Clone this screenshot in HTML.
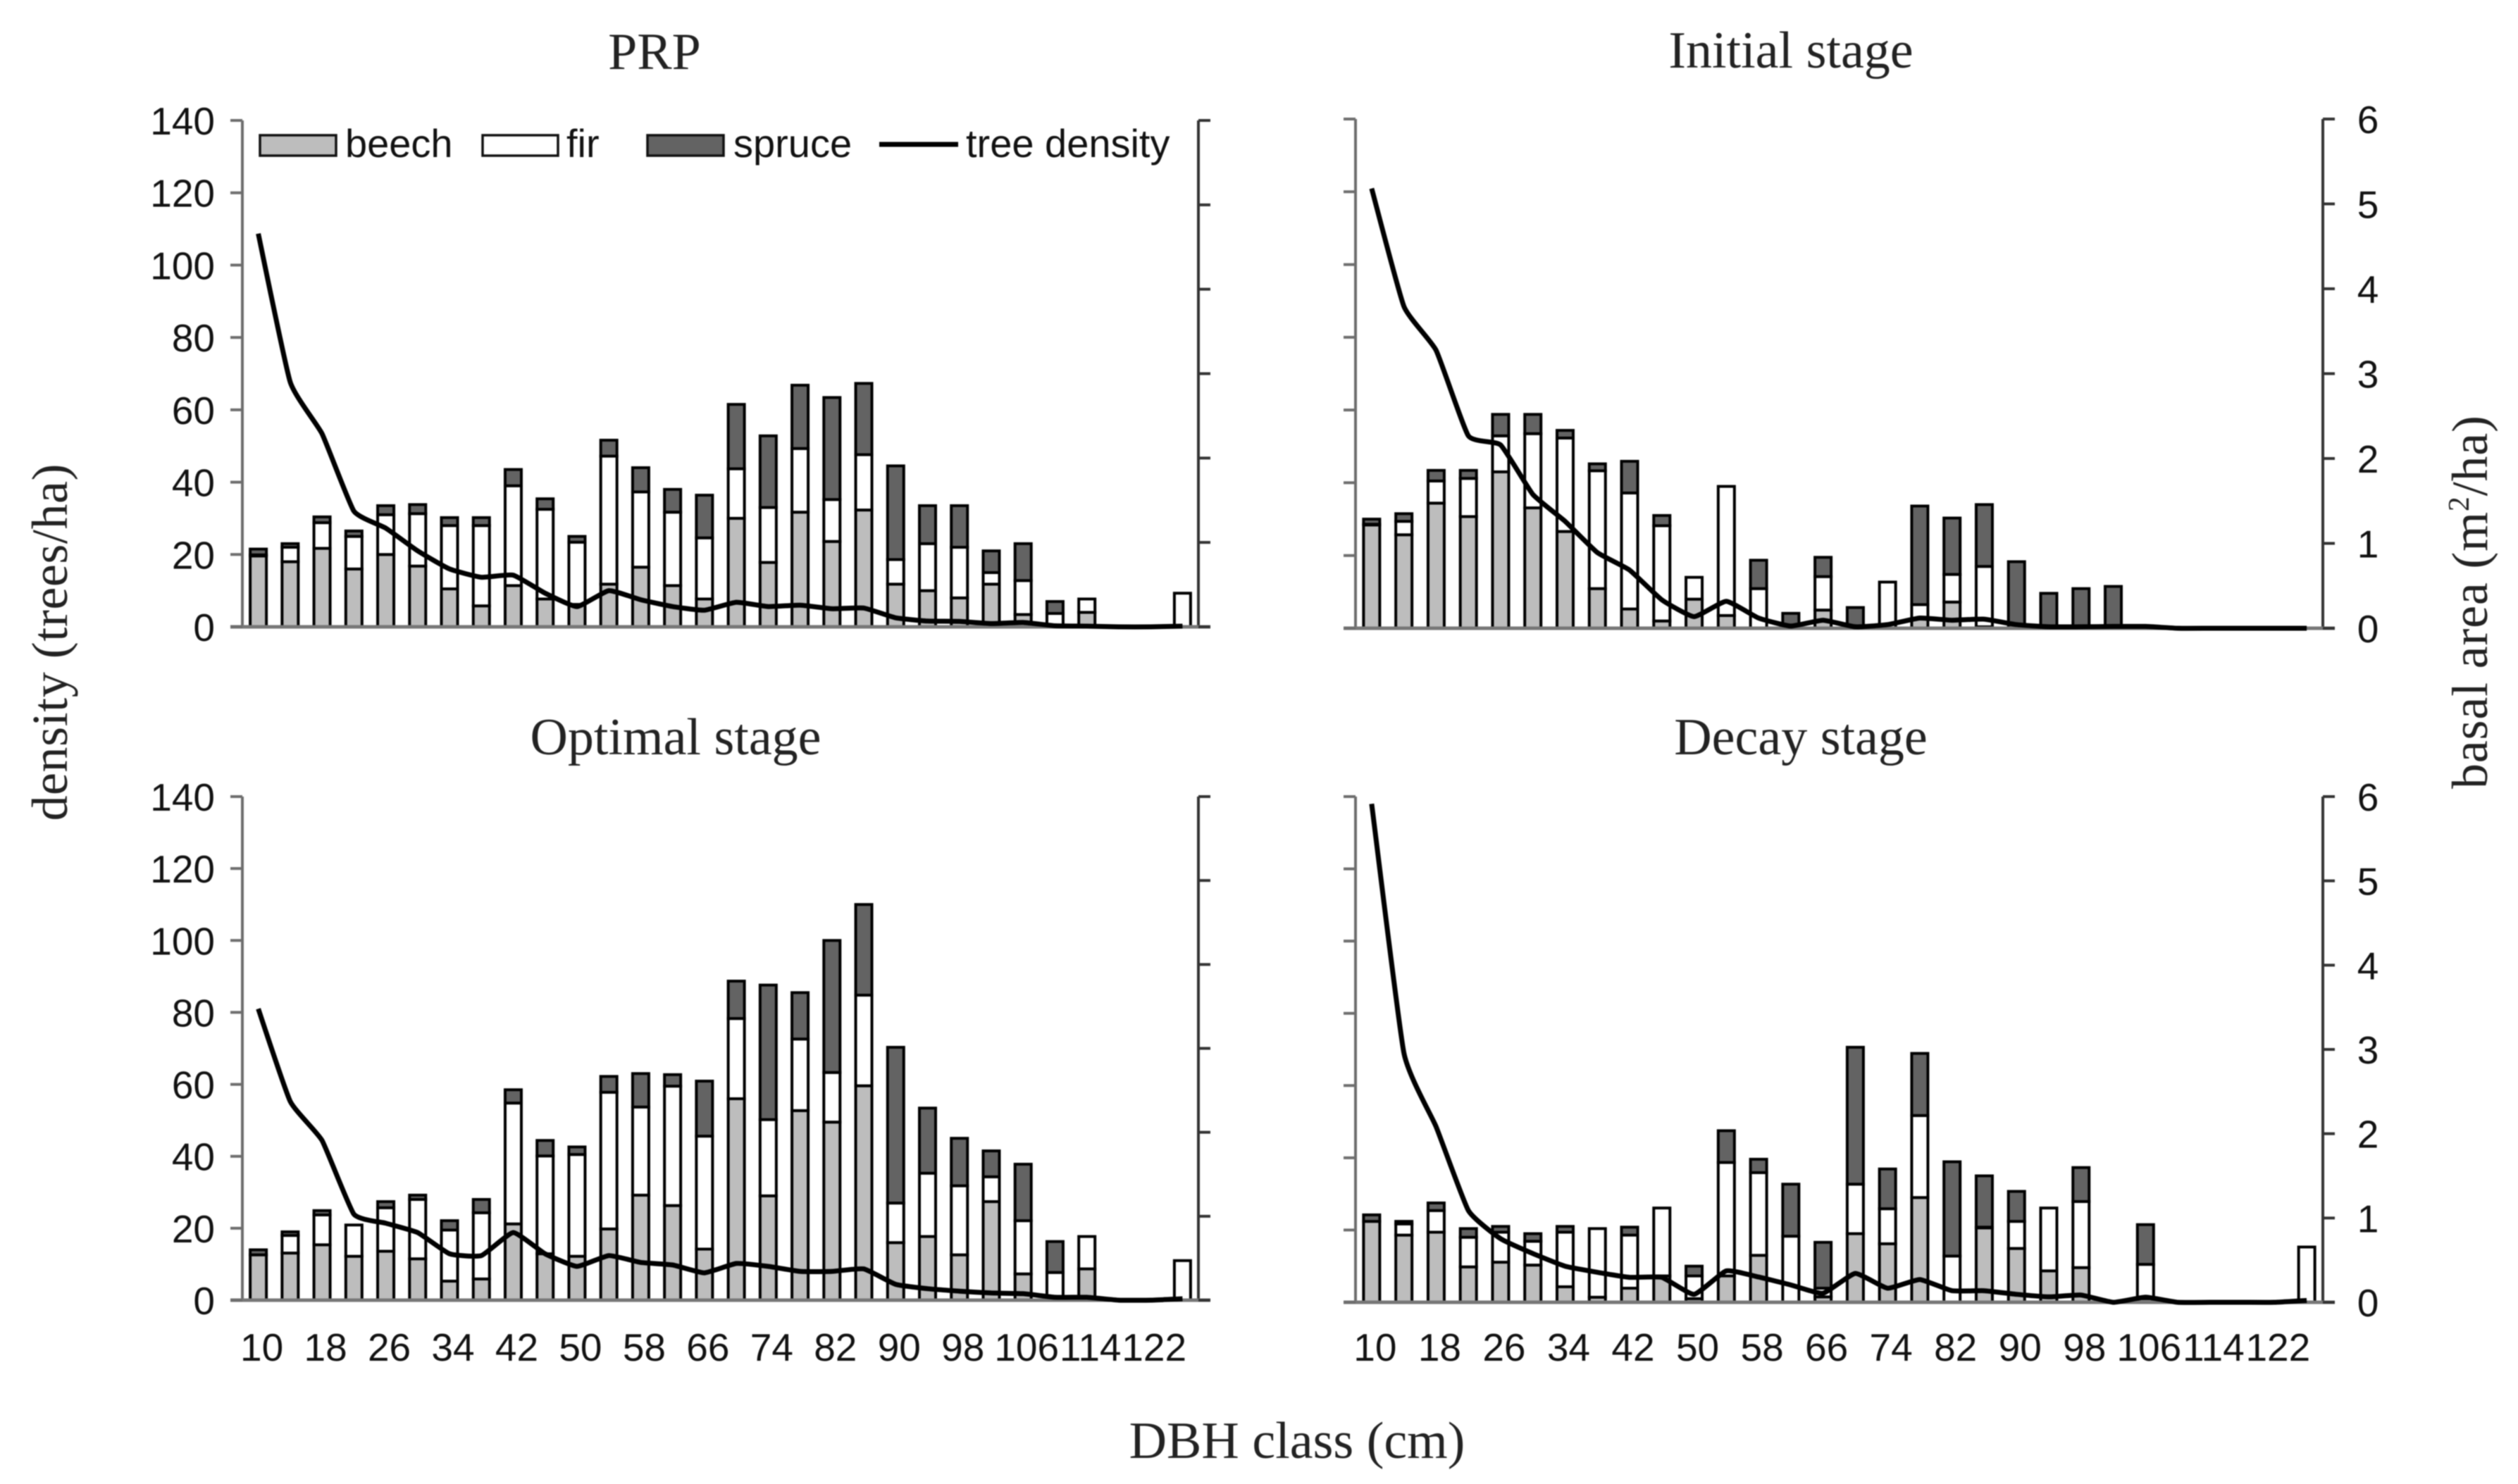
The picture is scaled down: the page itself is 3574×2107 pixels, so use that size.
<!DOCTYPE html>
<html lang="en">
<head>
<meta charset="utf-8">
<title>DBH class distributions by stage</title>
<style>
html,body{margin:0;padding:0;background:#fff;width:3574px;height:2107px;overflow:hidden}
svg{display:block;filter:blur(0.8px)}
.serif{font-family:"Liberation Serif",serif;fill:#222}
.sans{font-family:"Liberation Sans",sans-serif;fill:#111}
</style>
</head>
<body>
<svg id="chart" xmlns="http://www.w3.org/2000/svg" width="3574" height="2107" viewBox="0 0 3574 2107">
  <rect x="0" y="0" width="3574" height="2107" fill="#fff"/>
  <g id="panel-prp"></g>
  <g id="panel-initial"></g>
  <g id="panel-optimal"></g>
  <g id="panel-decay"></g>

  <text class="serif" x="929" y="98" font-size="74" text-anchor="middle">PRP</text>
  <text class="serif" x="2542" y="96" font-size="74" text-anchor="middle">Initial stage</text>
  <text class="serif" x="959" y="1071" font-size="74" text-anchor="middle">Optimal stage</text>
  <text class="serif" x="2556" y="1071" font-size="74" text-anchor="middle">Decay stage</text>

  <text class="serif" x="1841" y="2070" font-size="74" text-anchor="middle">DBH class (cm)</text>
  <text class="serif" transform="translate(95,912) rotate(-90)" font-size="72" text-anchor="middle" textLength="507" lengthAdjust="spacing">density (trees/ha)</text>
  <text class="serif" transform="translate(3530,855) rotate(-90)" font-size="72" text-anchor="middle" textLength="530" lengthAdjust="spacing">basal area (m<tspan font-size="42" dy="-26">2</tspan><tspan dy="26">/ha)</tspan></text>

  <g>
    <g>
      <rect x="369" y="192" width="108" height="29" fill="#bdbdbd" stroke="#111" stroke-width="3.5"/>
      <text class="sans" x="490" y="223" font-size="56">beech</text>
    </g>
    <g>
      <rect x="685" y="192" width="107" height="29" fill="#fff" stroke="#111" stroke-width="3.5"/>
      <text class="sans" x="804" y="223" font-size="56">fir</text>
    </g>
    <g>
      <rect x="919" y="192" width="108" height="29" fill="#636363" stroke="#111" stroke-width="3.5"/>
      <text class="sans" x="1041" y="223" font-size="56">spruce</text>
    </g>
    <g>
      <line x1="1248" y1="205" x2="1360" y2="205" stroke="#000" stroke-width="7"/>
      <text class="sans" x="1371" y="223" font-size="56">tree density</text>
    </g>
  </g>
</svg>
<script>
// DBH class midpoints (cm); only every second class carries a tick label.
const categories = [10,14,18,22,26,30,34,38,42,46,50,54,58,62,66,70,74,78,82,86,90,94,98,102,106,110,114,118,122,126];
const leftTicks = [0,20,40,60,80,100,120,140];
const rightTicks = [0,1,2,3,4,5,6];
const xTickLabels = ['10','18','26','34','42','50','58','66','74','82','90','98','106','114','122'];

// Values read against the left-hand 0-140 scale of each panel.
const prpBeech  = [19.6,18,21.7,16,20,16.8,10.5,5.8,11.4,7.7,6.2,11.8,16.5,11.4,7.7,30,17.8,31.7,23.6,32.3,11.8,10,8,11.8,3.4,0,4,0,0,0];
const prpFir    = [0.3,4,7.1,9,11,14.5,17.5,22.2,27.6,24.8,17.2,35.4,20.8,20.3,16.9,13.7,15.2,17.6,11.6,15.3,6.8,13,14,3.2,9.4,3.7,3.7,0,0,9.3];
const prpSpruce = [1.6,1,1.6,1.5,2.5,2.5,2.2,2.2,4.5,2.9,1.6,4.4,6.7,6.3,11.8,17.8,19.8,17.5,28.2,19.7,25.9,10.5,11.5,6,10.2,3.3,0,0,0,0];
const prpDensity = [108.7,67.7,53.4,32,27.3,21,16,13.7,14.3,9.3,5.6,10,7.5,5.6,4.6,6.8,5.6,6,5,5.2,2.5,1.6,1.5,0.9,1.2,0.3,0.2,0,0,0.2];

const initialBeech  = [28.4,25.7,34.4,30.7,43,33.1,26.6,10.9,5.3,2,8,3.5,0,0,5,0,0,2.8,7.2,0.4,0,0,0,0,0,0,0,0,0,0];
const initialFir    = [0.2,3.7,6.1,10.5,9.9,20.4,25.7,32.4,31.9,26.2,6,35.5,10.9,0,9.2,0,12.7,3.7,7.6,16.6,0,0,0,0,0,0,0,0,0,0];
const initialSpruce = [1.4,2.1,2.9,2.2,5.9,5.3,2.1,1.9,8.7,2.8,0,0,7.8,4.1,5.3,5.7,0,27.1,15.5,17,18.3,9.6,10.9,11.5,0,0,0,0,0,0];
const initialDensity = [120.9,88.5,76.4,52.9,50.4,36.8,29.4,20.8,16,7.8,3.2,7.4,2.8,0.6,2.2,0.4,1,2.8,2.2,2.5,1,0.4,0.4,0.5,0.5,0,0,0,0,0];

const optimalBeech  = [12.6,13.1,15.4,12.2,13.6,11.5,5.3,5.9,21.2,12.9,12.2,19.8,29.2,26.3,14.2,56,29,52.7,49.5,59.6,16,17.7,12.6,27.4,7.3,0,8.7,0,0,0];
const optimalFir    = [0,4.9,8.3,8.7,12.1,16.5,14.2,18.4,33.6,27.2,28.3,38,24.5,33.2,31.4,22.3,21.2,19.9,13.8,25.2,11,17.6,19.2,6.9,14.8,7.7,9,0,0,11];
const optimalSpruce = [1.4,1,1.2,0,1.7,1.2,2.6,3.7,3.7,4.3,2.1,4.4,9.3,3.2,15.3,10.4,37.4,12.9,36.7,25.2,43.3,18.1,13.2,7.2,15.7,8.6,0,0,0,0];
const optimalDensity = [81,55.3,44.4,23.9,21.4,18.8,12.9,12.4,18.8,12.9,9.4,12.4,10.5,9.8,7.6,10.2,9.4,8,8,8.7,4.4,3.2,2.5,2,1.8,0.8,0.8,0,0,0.4];

const decayBeech  = [22.4,18.6,19.4,9.8,11.1,10.3,4.3,1.4,3.9,7.3,1,7.3,13,0,1.5,19,16.2,29,0,20.6,14.9,8.7,9.6,0,1,0,0,0,0,0];
const decayFir    = [0,3.1,6,8.2,8.3,6.6,15.1,19,14.7,18.8,6.3,31.4,22.9,18.3,2.4,13.7,9.7,22.7,12.8,0.2,7.5,17.4,18.3,0,9.5,0,0,0,0,15.3];
const decaySpruce = [1.8,0.7,2.1,2.4,1.6,2.1,1.6,0,2.2,0,2.7,8.8,3.7,14.4,12.7,37.9,11,17.2,26.1,14.2,8.3,0,9.4,0,11,0,0,0,0,0];
const decayDensity = [138,69,48.6,25.4,17.6,13.5,10,8.3,6.9,6.9,2.2,8.7,7,4.8,2.5,8,3.9,6.3,3.2,3.2,2.2,1.5,2,0,1.4,0,0,0,0,0.5];

const yMax = 140;
const rightMax = 6;
const NS = 'http://www.w3.org/2000/svg';

function mk(parent, tag, attrs) {
  const el = document.createElementNS(NS, tag);
  for (const k in attrs) el.setAttribute(k, attrs[k]);
  parent.appendChild(el);
  return el;
}

function smoothPath(pts) {
  const f = 1 / 14;
  let d = 'M' + pts[0][0].toFixed(1) + ' ' + pts[0][1].toFixed(1);
  for (let i = 0; i < pts.length - 1; i++) {
    const p0 = pts[Math.max(i - 1, 0)], p1 = pts[i], p2 = pts[i + 1], p3 = pts[Math.min(i + 2, pts.length - 1)];
    const c1x = p1[0] + (p2[0] - p0[0]) * f, c1y = p1[1] + (p2[1] - p0[1]) * f;
    const c2x = p2[0] - (p3[0] - p1[0]) * f, c2y = p2[1] - (p3[1] - p1[1]) * f;
    d += 'C' + c1x.toFixed(1) + ' ' + c1y.toFixed(1) + ' ' + c2x.toFixed(1) + ' ' + c2y.toFixed(1) + ' ' + p2[0].toFixed(1) + ' ' + p2[1].toFixed(1);
  }
  return d;
}

function drawPanel(cfg) {
  const g = document.getElementById(cfg.id);
  const band = (cfg.right - cfg.left) / categories.length;
  const xScale = i => cfg.left + band * (i + 0.5);
  const yScale = v => cfg.bottom - (v / yMax) * (cfg.bottom - cfg.top);
  const yRight = v => cfg.bottom - (v / rightMax) * (cfg.bottom - cfg.top);
  const barW = 23;

  categories.forEach((c, i) => {
    let base = 0;
    [[cfg.beech, '#bdbdbd', 'beech'], [cfg.fir, '#ffffff', 'fir'], [cfg.spruce, '#636363', 'spruce']].forEach(s => {
      const v = s[0][i];
      if (v > 0) {
        const y1 = yScale(base + v), y0 = yScale(base);
        const r = mk(g, 'rect', {x: xScale(i) - barW / 2, y: y1, width: barW, height: Math.max(y0 - y1, 0.5), fill: s[1], stroke: '#000', 'stroke-width': 4});
        
        
      }
      base += v;
    });
  });

  const leftAxis = mk(g, 'line', {x1: cfg.left, y1: cfg.top, x2: cfg.left, y2: cfg.bottom, stroke: '#6e6e6e', 'stroke-width': 4});
  
  
  const rightAxis = mk(g, 'line', {x1: cfg.right, y1: cfg.top, x2: cfg.right, y2: cfg.bottom, stroke: '#333', 'stroke-width': 4});
  
  
  const xAxis = mk(g, 'line', {x1: cfg.left - 17, y1: cfg.bottom, x2: cfg.right + 17, y2: cfg.bottom, stroke: '#777', 'stroke-width': 5});
  
  

  leftTicks.forEach(t => {
    const y = yScale(t);
    const tick = mk(g, 'line', {x1: cfg.left - 17, y1: y, x2: cfg.left, y2: y, stroke: '#6e6e6e', 'stroke-width': 4});
    
    
    if (cfg.leftLabels) {
      const tx = mk(g, 'text', {x: cfg.left - 39, y: y + 20, 'font-size': 55, 'text-anchor': 'end', class: 'sans'});
      
      
      tx.textContent = String(t);
    }
  });

  rightTicks.forEach(t => {
    const y = yRight(t);
    const tick = mk(g, 'line', {x1: cfg.right, y1: y, x2: cfg.right + 17, y2: y, stroke: '#333', 'stroke-width': 4});
    
    
    if (cfg.rightLabels) {
      const tx = mk(g, 'text', {x: cfg.right + 64, y: y + 20, 'font-size': 55, 'text-anchor': 'middle', class: 'sans'});
      
      
      tx.textContent = String(t);
    }
  });

  if (cfg.xLabels) {
    xTickLabels.forEach((l, j) => {
      const tx = mk(g, 'text', {x: xScale(j * 2) + 5, y: 1932, 'font-size': 55, 'text-anchor': 'middle', class: 'sans'});
      
      
      tx.textContent = l;
    });
  }

  const pts = cfg.density.map((v, i) => [xScale(i), yScale(v)]);
  const line = mk(g, 'path', {d: smoothPath(pts), fill: 'none', stroke: '#000', 'stroke-width': 7, 'stroke-linejoin': 'round'});
  
  
}

drawPanel({id: 'panel-prp', left: 344, right: 1701, top: 171, bottom: 890, beech: prpBeech, fir: prpFir, spruce: prpSpruce, density: prpDensity, leftLabels: true, rightLabels: false, xLabels: false});
drawPanel({id: 'panel-initial', left: 1924, right: 3297, top: 169, bottom: 892, beech: initialBeech, fir: initialFir, spruce: initialSpruce, density: initialDensity, leftLabels: false, rightLabels: true, xLabels: false});
drawPanel({id: 'panel-optimal', left: 344, right: 1701, top: 1131, bottom: 1846, beech: optimalBeech, fir: optimalFir, spruce: optimalSpruce, density: optimalDensity, leftLabels: true, rightLabels: false, xLabels: true});
drawPanel({id: 'panel-decay', left: 1924, right: 3297, top: 1131, bottom: 1849, beech: decayBeech, fir: decayFir, spruce: decaySpruce, density: decayDensity, leftLabels: false, rightLabels: true, xLabels: true});
</script>
</body>
</html>
